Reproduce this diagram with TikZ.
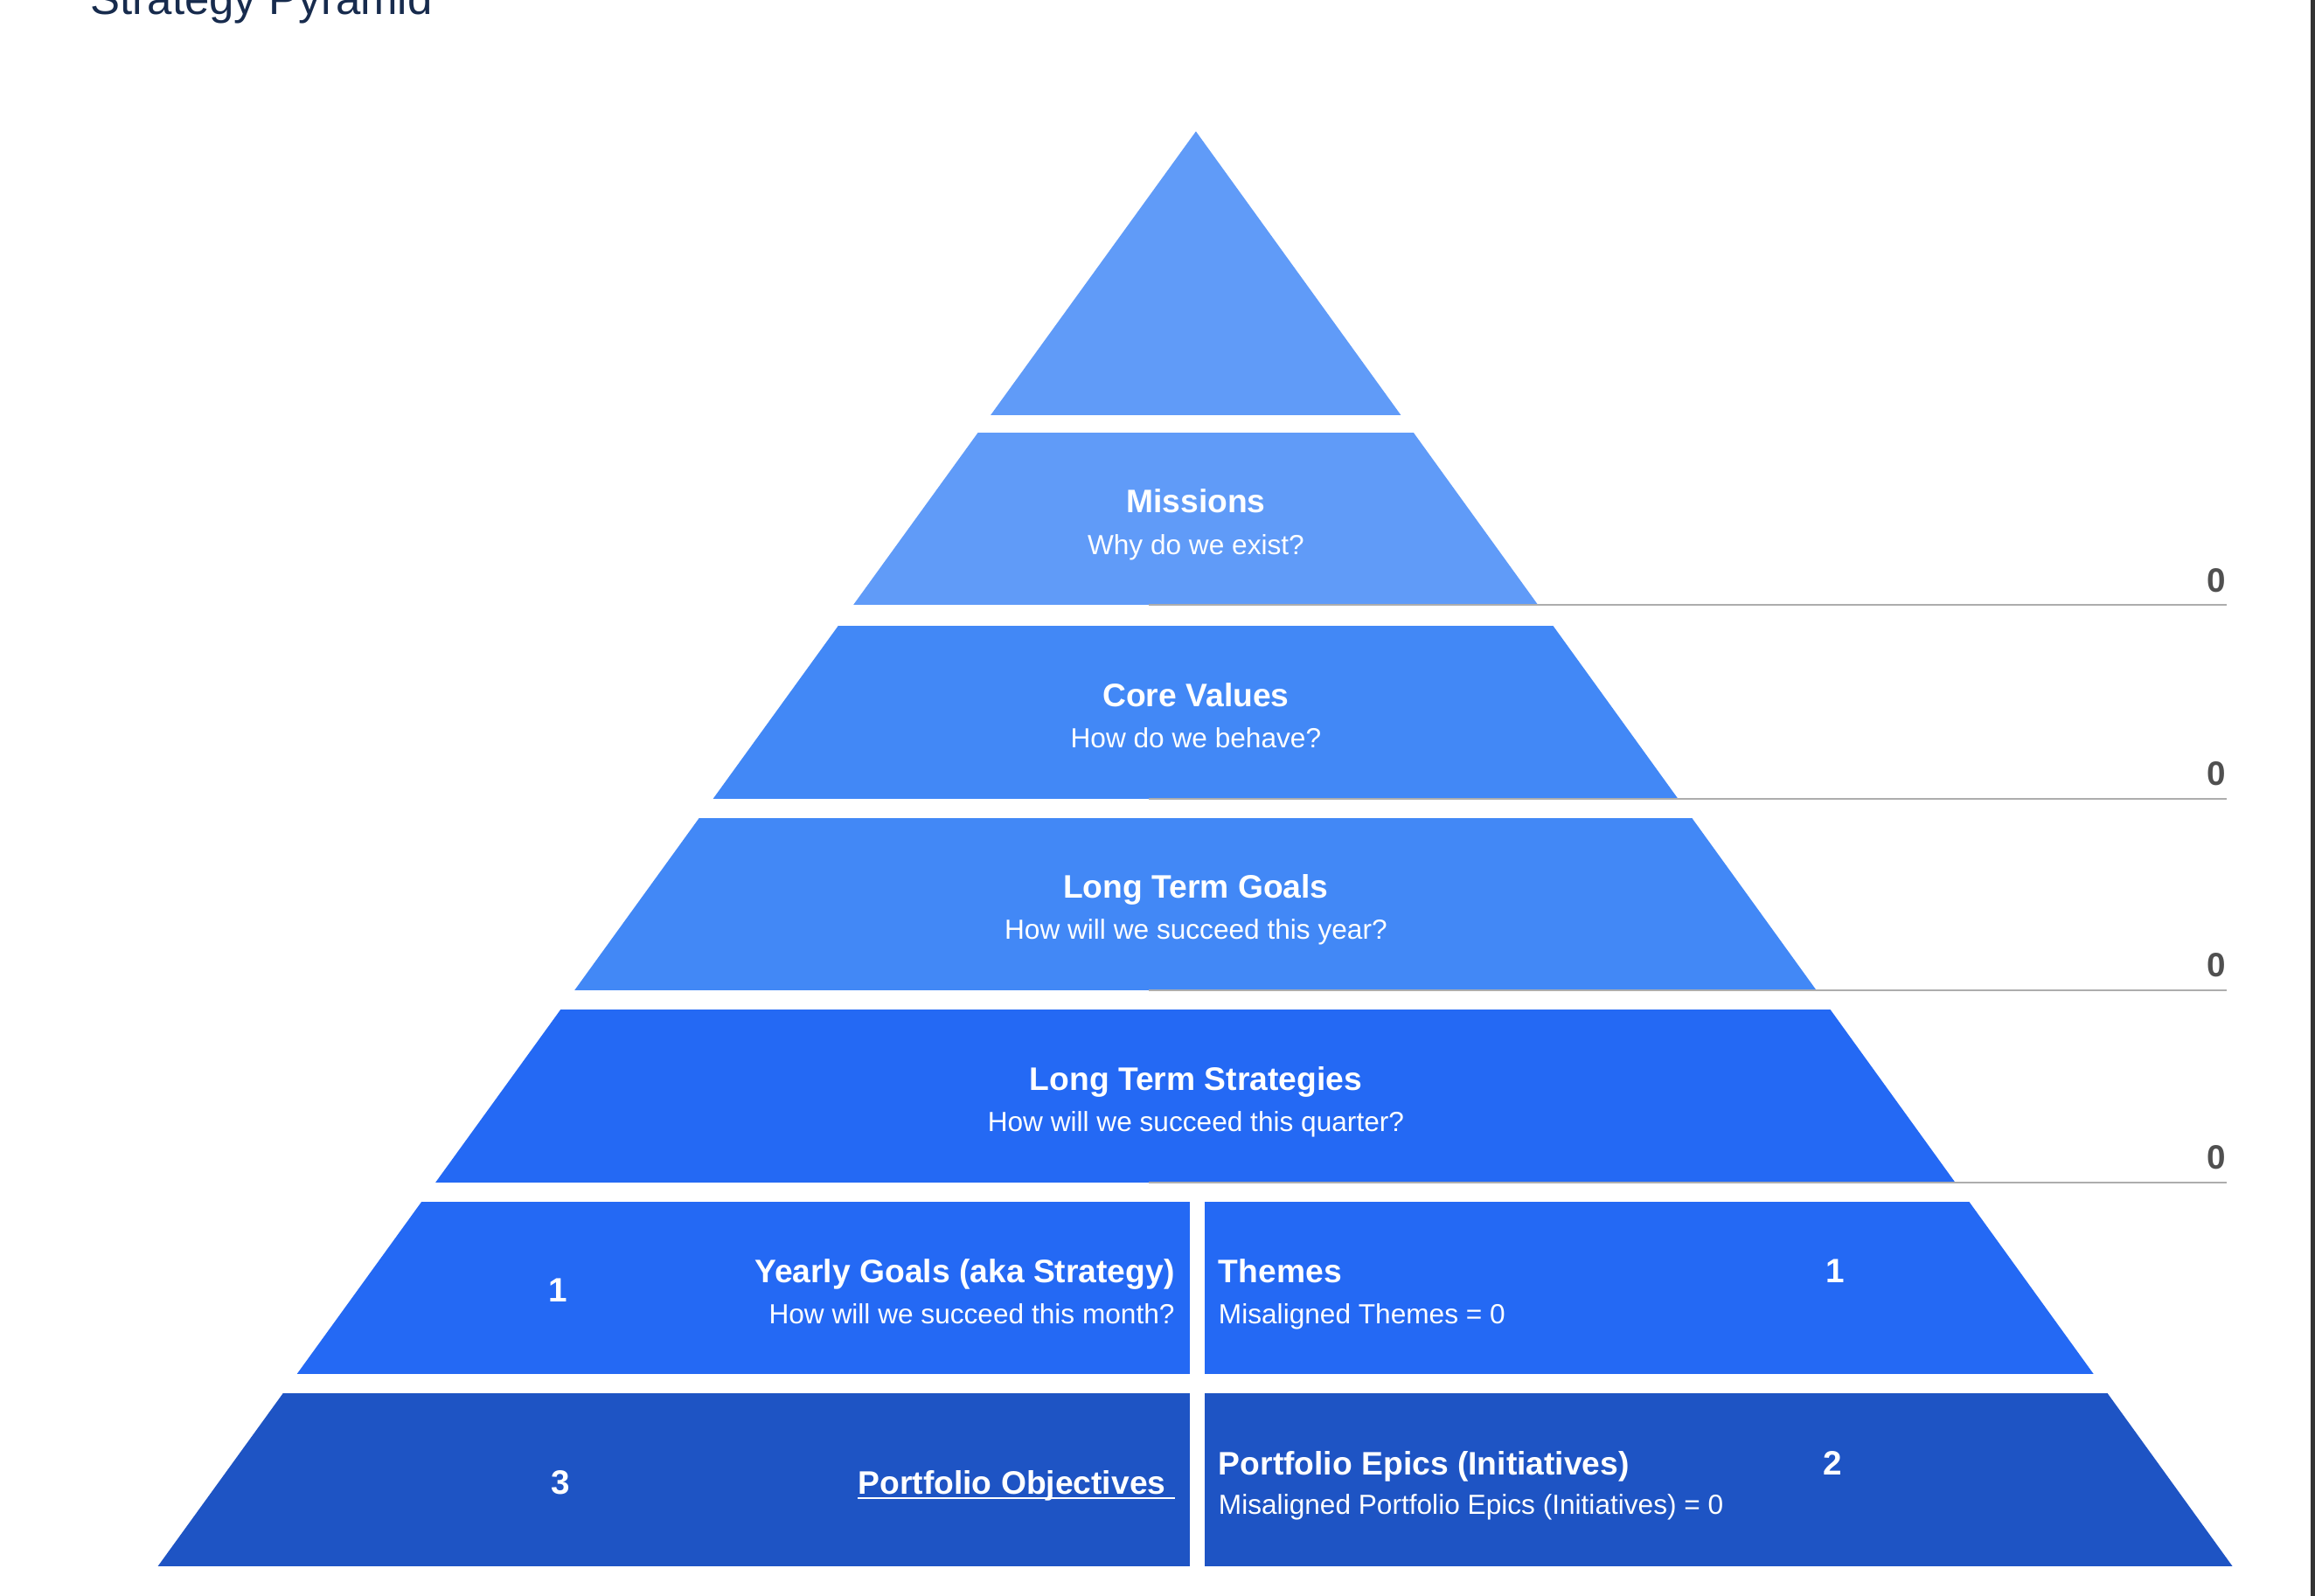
\documentclass[tikz,border=0pt]{standalone}
\usepackage{fontspec}
\setmainfont{Liberation Sans}
\usepackage{xcolor}
\usepackage{tikz}
\usetikzlibrary{positioning,calc}
\definecolor{tierA}{HTML}{609BF8}
\definecolor{tierB}{HTML}{4288F6}
\definecolor{tierC}{HTML}{2469F4}
\definecolor{tierD}{HTML}{1E54C4}
\definecolor{heading}{HTML}{172B4D}
\definecolor{countgray}{HTML}{505050}
\definecolor{rulegray}{HTML}{ADADAD}

\begin{document}
\begin{tikzpicture}[
        x=0.016888cm, y=-0.016888cm,
        tiertitle/.style={font=\fontsize{10.6}{13}\selectfont\bfseries, text=white, inner sep=0pt},
        tiersub/.style={font=\fontsize{9}{11}\selectfont, text=white, inner sep=0pt},
        count/.style={font=\fontsize{11}{13}\selectfont\bfseries, text=white, inner sep=0pt, anchor=base},
        tally/.style={count, text=countgray, anchor=base east},
        rule/.style={rulegray, line width=0.6pt}
    ]
    \useasboundingbox (0,0) rectangle (1568,1081);
    % window edge on the right
    \fill[black!80] (1565,0) rectangle (1568,1081);

    \node[font=\fontsize{14.5}{17}\selectfont, text=heading, anchor=base west, inner sep=0pt]
        (heading) at (61,10) {Strategy Pyramid};

    % Pyramid outline (apex and base corners)
    \coordinate (apex) at (810,89);
    \coordinate (bl)   at (107,1061);
    \coordinate (br)   at (1512,1061);

    % ---- Tiers: bands cut out of one triangle ----
    \begin{scope}
        \clip (apex) -- (br) -- (bl) -- cycle;
        \fill[tierA] (0,80) rectangle (1568,281);
        \foreach \top/\bot/\col in {293/410/tierA, 424/541/tierB, 554/671/tierB, 684/801/tierC}
            \fill[\col] (0,\top) rectangle (1568,\bot);
        \foreach \top/\bot/\col in {814/931/tierC, 944/1061/tierD} {
            \fill[\col] (0,\top) rectangle (806,\bot);
            \fill[\col] (816,\top) rectangle (1568,\bot);
        }
    \end{scope}

    % Count rules with their totals
    \foreach \y/\nm in {410/mis, 541/core, 671/ltg, 801/lts} {
        \draw[rule] (778,\y) -- (1508,\y);
        \node[tally] (\nm-n) at (1508,\y-9) {0};
    }

    % Centred tiers
    \foreach \nm/\top/\ttl/\qq in {mis/293/Missions/Why do we exist?,
                                   core/424/Core Values/How do we behave?,
                                   ltg/554/Long Term Goals/How will we succeed this year?,
                                   lts/684/Long Term Strategies/How will we succeed this quarter?} {
        \node[tiertitle, anchor=base] (\nm)   at (810,\top+54.5) {\ttl};
        \node[tiersub,   anchor=base] (\nm-q) at (810,\top+82.5) {\qq};
    }

    % ---- Split tier: yearly goals | themes ----
    \node[tiertitle, anchor=base east] (yg)   at (796,869) {Yearly Goals (aka Strategy)};
    \node[tiersub,   anchor=base east] (yg-q) at (796,897) {How will we succeed this month?};
    \node[count] (yg-n) at (378,882) {1};
    \node[tiertitle, anchor=base west] (th)   at (825,869) {Themes};
    \node[tiersub,   anchor=base west] (th-q) at (825,897) {Misaligned Themes = 0};
    \node[count] (th-n) at (1243,869) {1};

    % ---- Split tier: portfolio objectives | epics ----
    \node[tiertitle, anchor=base east] (pobj) at (790,1012) {Portfolio Objectives};
    \draw[white, line width=0.6pt] ($(pobj.base west)+(0,3)$) -- (796,1015);
    \node[count] (pobj-n) at (380,1012) {3};
    \node[tiertitle, anchor=base west] (pep)   at (825,999)  {Portfolio Epics (Initiatives)};
    \node[tiersub,   anchor=base west] (pep-q) at (825,1026) {Misaligned Portfolio Epics (Initiatives) = 0};
    \node[count] (pep-n) at (1241,999) {2};
\end{tikzpicture}
\end{document}
